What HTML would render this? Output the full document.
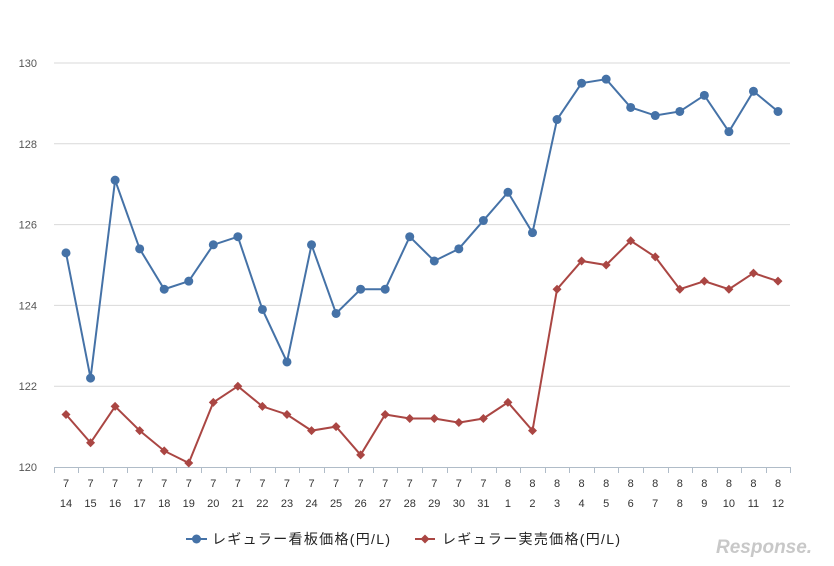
<!DOCTYPE html>
<html><head><meta charset="utf-8">
<style>
html,body{margin:0;padding:0;background:#fff;}
svg{display:block;font-family:"Liberation Sans","Noto Sans CJK JP",sans-serif;}
</style></head>
<body>
<svg id="c" width="834" height="566" xmlns="http://www.w3.org/2000/svg"></svg>
<script>
const svg=document.getElementById('c');
const blue=[125.3,122.2,127.1,125.4,124.4,124.6,125.5,125.7,123.9,122.6,125.5,123.8,124.4,124.4,125.7,125.1,125.4,126.1,126.8,125.8,128.6,129.5,129.6,128.9,128.7,128.8,129.2,128.3,129.3,128.8];
const red=[121.3,120.6,121.5,120.9,120.4,120.1,121.6,122.0,121.5,121.3,120.9,121.0,120.3,121.3,121.2,121.2,121.1,121.2,121.6,120.9,124.4,125.1,125.0,125.6,125.2,124.4,124.6,124.4,124.8,124.6];
const months=[],days=[];
for(let d=14;d<=31;d++){months.push(7);days.push(d);}
for(let d=1;d<=12;d++){months.push(8);days.push(d);}
const X=i=>66+i*24.552, Y=v=>467-(v-120)*40.4;
let h='';
for(let v=122;v<=130;v+=2){h+=`<line x1="54" x2="790" y1="${Y(v)}" y2="${Y(v)}" stroke="#d9d9d9" stroke-width="1"/>`;}
for(let v=120;v<=130;v+=2){h+=`<text x="37" y="${Y(v)+4}" text-anchor="end" font-size="11" fill="#555">${v}</text>`;}
h+=`<line x1="54" x2="790.5" y1="467.5" y2="467.5" stroke="#b0bcc8"/>`;
for(let i=0;i<=30;i++){const x=Math.round(53.7+i*24.552)+0.5;h+=`<line x1="${x}" x2="${x}" y1="467" y2="473" stroke="#b0bcc8"/>`;}
for(let i=0;i<30;i++){h+=`<text x="${X(i)}" y="487" text-anchor="middle" font-size="11" fill="#333">${months[i]}</text><text x="${X(i)}" y="507" text-anchor="middle" font-size="11" fill="#333">${days[i]}</text>`;}
h+=`<polyline fill="none" stroke="#4572a7" stroke-width="2" points="${blue.map((v,i)=>X(i)+','+Y(v)).join(' ')}"/>`;
h+=`<polyline fill="none" stroke="#aa4643" stroke-width="2" points="${red.map((v,i)=>X(i)+','+Y(v)).join(' ')}"/>`;
blue.forEach((v,i)=>h+=`<circle cx="${X(i)}" cy="${Y(v)}" r="4.5" fill="#4572a7"/>`);
red.forEach((v,i)=>{const x=X(i),y=Y(v);h+=`<polygon points="${x},${y-4.5} ${x+4.5},${y} ${x},${y+4.5} ${x-4.5},${y}" fill="#aa4643"/>`;});
h+=`<line x1="186" x2="207" y1="539" y2="539" stroke="#4572a7" stroke-width="2"/><circle cx="196.5" cy="539" r="4.5" fill="#4572a7"/>`;
h+=`<text x="212" y="544" font-size="14" fill="#222" textLength="178" lengthAdjust="spacing">レギュラー看板価格(円/L)</text>`;
h+=`<line x1="415" x2="435" y1="539" y2="539" stroke="#aa4643" stroke-width="2"/><polygon points="425,534.5 429.5,539 425,543.5 420.5,539" fill="#aa4643"/>`;
h+=`<text x="442" y="544" font-size="14" fill="#222" textLength="178" lengthAdjust="spacing">レギュラー実売価格(円/L)</text>`;
h+=`<text x="716" y="553" font-size="19" font-style="italic" fill="#c8c8c8" font-weight="bold">Response.</text>`;
svg.innerHTML=h;
</script>
</body></html>
